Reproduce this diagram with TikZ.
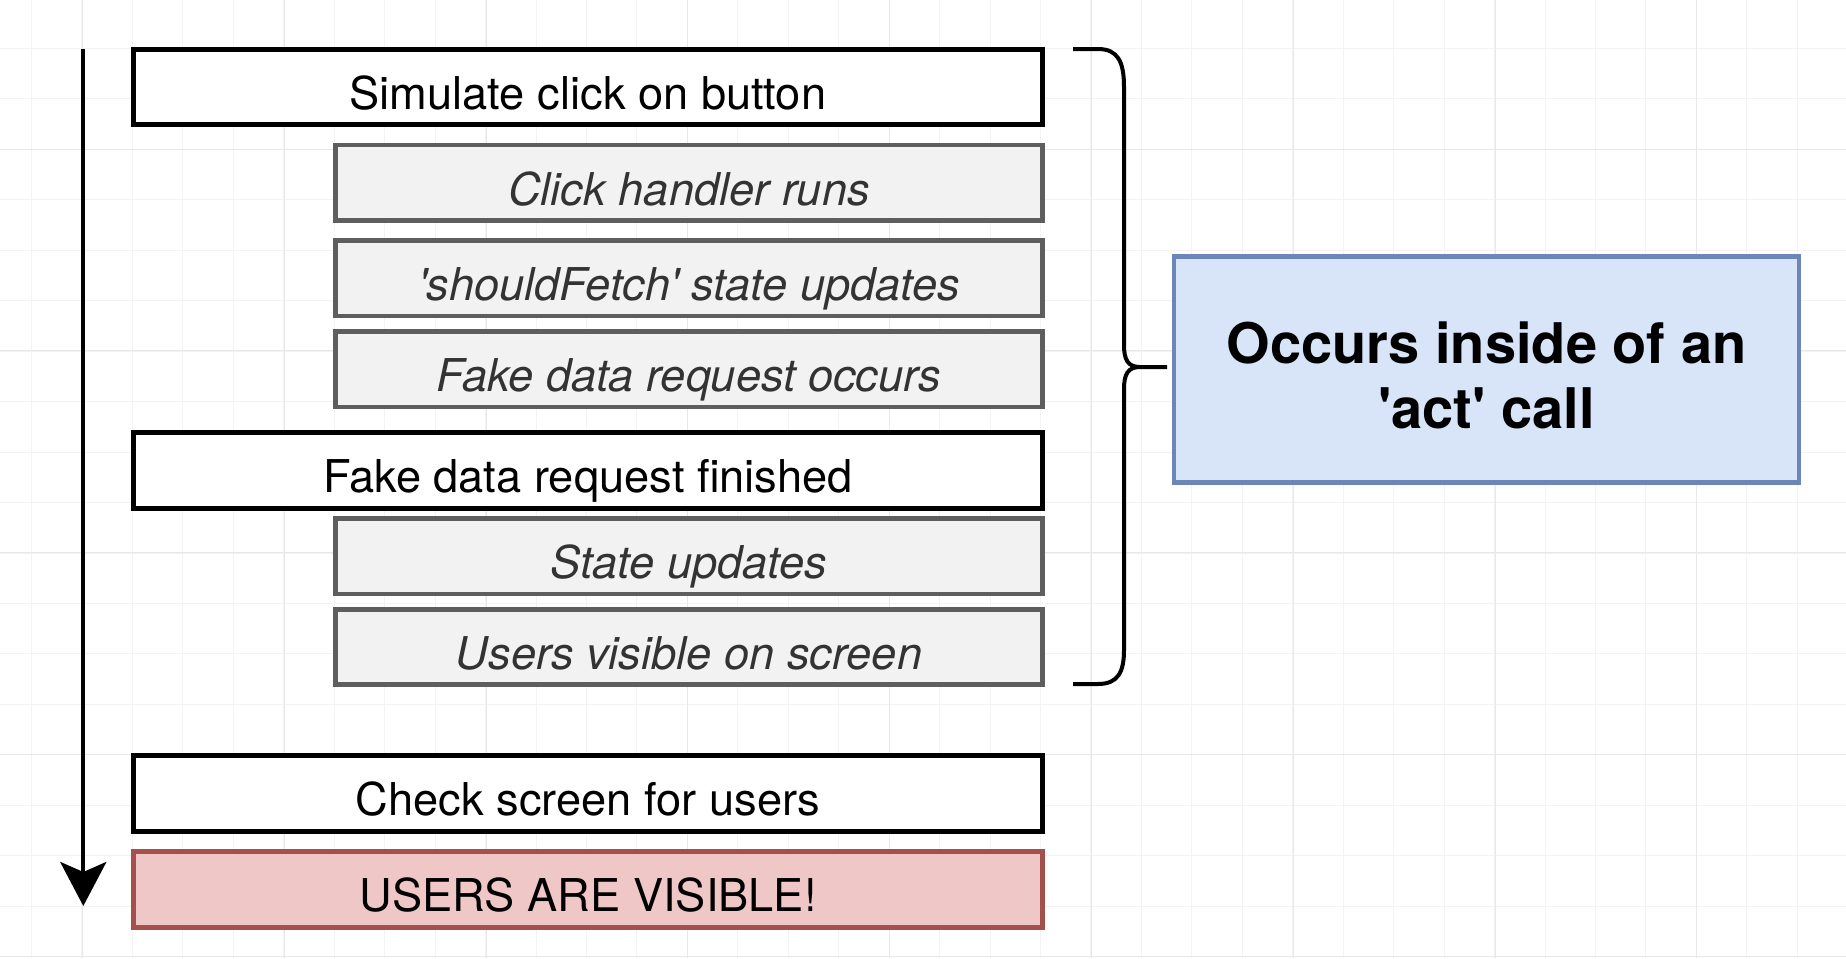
\documentclass[tikz,border=0pt]{standalone}
\usepackage{fontspec}
\setmainfont{TeX Gyre Heros}
\usetikzlibrary{arrows.meta}

\definecolor{subfill}{HTML}{F2F2F2}
\definecolor{subline}{HTML}{5E5E5E}
\definecolor{subtext}{HTML}{333333}
\definecolor{actfill}{HTML}{D8E4F8}
\definecolor{actline}{HTML}{6C86B8}
\definecolor{endfill}{HTML}{EFC7C6}
\definecolor{endline}{HTML}{A4514D}
\definecolor{gridminor}{HTML}{F3F3F3}
\definecolor{gridmajor}{HTML}{E8E8E8}

\newcommand{\sqt}{\textquotesingle}

\begin{document}
\begin{tikzpicture}[x=0.5pt, y=-0.5pt,
  stepbox/.style={draw, line width=2.5pt, fill=white, inner sep=0pt, minimum width=454.5pt, minimum height=37.75pt, text height=22.5pt, text depth=0pt, font=\fontsize{22.6}{27}\selectfont},
  subbox/.style={stepbox, draw=subline, line width=2.3pt, fill=subfill, text=subtext, minimum width=353.5pt, font=\fontsize{22.6}{27}\selectfont\itshape},
  endbox/.style={stepbox, draw=endline, fill=endfill},
  actbox/.style={draw=actline, line width=2.2pt, fill=actfill, inner sep=0pt, minimum width=312.5pt, minimum height=113pt, align=center, text height=59pt, text depth=0pt, font=\fontsize{28}{32.5}\selectfont\bfseries},
  brace/.style={line width=2pt, line join=round},
  timeline/.style={line width=2pt, -{Stealth[length=22pt, width=23pt, inset=5pt]}}]
  \useasboundingbox (0,0) rectangle (1846,958);

  % background grid
  \foreach \gx in {0,...,36} \draw[gridminor, line width=0.5pt] (31.5+50.45*\gx,0) -- (31.5+50.45*\gx,958);
  \foreach \gy in {0,...,18} \draw[gridminor, line width=0.5pt] (0,48.5+50.45*\gy) -- (1846,48.5+50.45*\gy);
  \foreach \gx in {0,...,8} \draw[gridmajor, line width=0.5pt] (82.5+201.8*\gx,0) -- (82.5+201.8*\gx,958);
  \foreach \gy in {0,...,4} \draw[gridmajor, line width=0.5pt] (0,149+201.8*\gy) -- (1846,149+201.8*\gy);

  \node[stepbox] (sim)   at (588,86.8)  {Simulate click on button};
  \node[subbox]  (click) at (689,182.7) {Click handler runs};
  \node[subbox]  (flag)  at (689,278.3) {\sqt shouldFetch\sqt\ state updates};
  \node[subbox]  (req)   at (689,369.3) {Fake data request occurs};
  \node[stepbox] (done)  at (588,470.3) {Fake data request finished};
  \node[subbox]  (upd)   at (689,556.3) {State updates};
  \node[subbox]  (shown) at (689,647)   {Users visible on screen};
  \node[stepbox] (check) at (588,793.3) {Check screen for users};
  \node[endbox]  (ok)    at (588,889.3) {USERS ARE VISIBLE!};

  \node[actbox]  (act)   at (1486.5,369.5) {Occurs inside of an\\ \sqt act\sqt\ call};

  % time runs downwards
  \coordinate (start)  at (83.3,49.3);
  \coordinate (finish) at (83.3,906);
  \draw[timeline] (start) -- (finish);

  % brace round the act part
  \draw[brace] (1073,49) -- (1098,49) .. controls (1118,49) and (1124,62) .. (1124,87) -- (1124,345)
    .. controls (1124,360) and (1128,367) .. (1140,367) -- (1167,367);
  \draw[brace] (1140,367) .. controls (1128,367) and (1124,374) .. (1124,389) -- (1124,650)
    .. controls (1124,672) and (1118,684) .. (1098,684) -- (1073,684);
\end{tikzpicture}
\end{document}
